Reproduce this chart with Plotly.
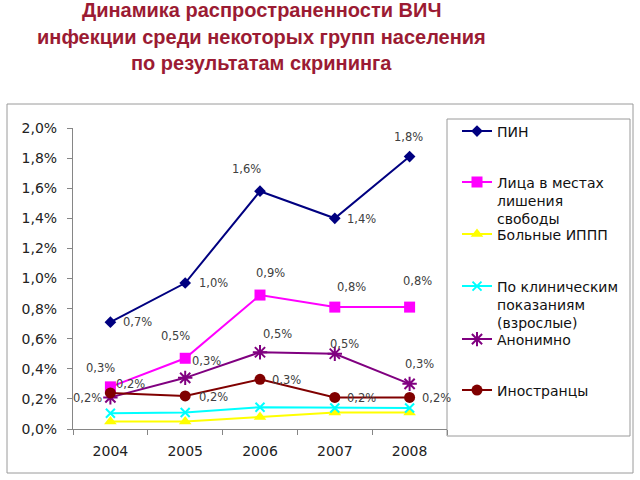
import plotly.graph_objects as go

# ---------------- data ----------------
YEARS = ["2004", "2005", "2006", "2007", "2008"]

PIN = [0.71, 0.97, 1.58, 1.40, 1.81]
PRISON = [0.28, 0.47, 0.89, 0.81, 0.81]
STD = [0.05, 0.05, 0.08, 0.11, 0.11]
CLINICAL = [0.105, 0.11, 0.145, 0.14, 0.14]
ANON = [0.21, 0.34, 0.51, 0.50, 0.30]
FOREIGN = [0.24, 0.22, 0.33, 0.21, 0.21]

SERIES_NAMES = [
    "ПИН",
    "Лица в местах<br>лишения<br>свободы",
    "Больные ИППП",
    "По клиническим<br>показаниям<br>(взрослые)",
    "Анонимно",
    "Иностранцы",
]

Y_TICKS = [0.0, 0.2, 0.4, 0.6, 0.8, 1.0, 1.2, 1.4, 1.6, 1.8, 2.0]
Y_TICK_LABELS = ["0,0%", "0,2%", "0,4%", "0,6%", "0,8%", "1,0%",
                 "1,2%", "1,4%", "1,6%", "1,8%", "2,0%"]

TITLE_LINES = [
    "Динамика распространенности ВИЧ",
    "инфекции среди некоторых групп населения",
    "по результатам скрининга",
]

# ---------------- styles / layout constants ----------------
SERIES_VALUES = [PIN, PRISON, STD, CLINICAL, ANON, FOREIGN]
STYLES = [
    dict(color="#000080", symbol="diamond", size=9),
    dict(color="#FF00FF", symbol="square", size=11),
    dict(color="#FFFF00", symbol="triangle-up", size=11),
    dict(color="#00FFFF", symbol="x-thin-open", size=9),
    dict(color="#800080", symbol="asterisk-open", size=12),
    dict(color="#800000", symbol="circle", size=11),
]
SHOW_LABELS = [True, True, False, False, True, True]
# label centre offsets (px) from the point: (dx right, dy down)
LABEL_OFFSETS = [
    [(27, 0), (28, 0), (-14, -22), (27, 1), (-1, -20)],
    [(-10, -19), (-10, -22), (10, -22), (17, -20), (8, -26)],
    None,
    None,
    [(-23, 1), (21, -17), (17, -18), (10, -10), (10, -20)],
    [(20, -9), (28, 1), (26, 1), (27, 1), (27, 1)],
]
LEGEND_SYMBOL_Y = [131, 182, 234, 286, 339, 390]

W, H = 640, 480
PL, PR, PT, PB = 73, 447, 128, 429  # plot area in px


def px_x(px):
    return (px - PL) / (PR - PL)


def px_y(py):
    return (PB - py) / (PB - PT)


FONT = "DejaVu Sans"

fig = go.Figure()
legend_keys = ["legend"] + [f"legend{i}" for i in range(2, 7)]

for i, (name, vals, st) in enumerate(zip(SERIES_NAMES, SERIES_VALUES, STYLES)):
    fig.add_trace(go.Scatter(
        x=YEARS, y=vals, name=name, mode="lines+markers",
        line=dict(color=st["color"], width=2),
        marker=dict(symbol=st["symbol"], size=st["size"], color=st["color"],
                    line=dict(color=st["color"], width=2 if "open" in st["symbol"] else 0)),
        legend=legend_keys[i],
        hoverinfo="skip",
    ))

annotations = []
for i, vals in enumerate(SERIES_VALUES):
    if not SHOW_LABELS[i]:
        continue
    for j, v in enumerate(vals):
        dx, dy = LABEL_OFFSETS[i][j]
        annotations.append(dict(
            x=j, y=v, xref="x", yref="y",
            text=f"{v:.1f}".replace(".", ",") + "%",
            showarrow=False, xshift=dx, yshift=-dy,
            font=dict(family=FONT, size=11.5, color="#404040"),
        ))

TITLE_CENTERS = [10, 37, 63]
for line, cy in zip(TITLE_LINES, TITLE_CENTERS):
    annotations.append(dict(
        x=px_x(261), y=px_y(cy), xref="paper", yref="paper",
        text=f"<b>{line}</b>", showarrow=False, xanchor="center", yanchor="middle",
        font=dict(family="Liberation Sans, Arial", size=20, color="#9B1B33"),
    ))

shapes = [
    dict(type="rect", xref="paper", yref="paper",
         x0=px_x(7), x1=px_x(633), y0=px_y(473), y1=px_y(104),
         line=dict(color="#9a9a9a", width=1), fillcolor="rgba(0,0,0,0)", layer="below"),
    dict(type="rect", xref="paper", yref="paper",
         x0=px_x(447), x1=px_x(630), y0=px_y(436), y1=px_y(119),
         line=dict(color="#9a9a9a", width=1), fillcolor="rgba(0,0,0,0)", layer="below"),
]

layout_legends = {}
for key, sy in zip(legend_keys, LEGEND_SYMBOL_Y):
    layout_legends[key] = dict(
        x=px_x(457), y=px_y(sy - 15.5), xanchor="left", yanchor="top",
        bgcolor="rgba(0,0,0,0)", borderwidth=0, valign="top",
        font=dict(family=FONT, size=14, color="#111111"),
        itemclick=False, itemdoubleclick=False,
    )

fig.update_layout(
    width=W, height=H,
    margin=dict(l=PL, r=W - PR, t=PT, b=H - PB, pad=0),
    paper_bgcolor="white", plot_bgcolor="white",
    showlegend=True,
    annotations=annotations,
    shapes=shapes,
    xaxis=dict(
        type="category", range=[-0.5, 4.5], showgrid=False, zeroline=False,
        showline=True, linecolor="#868686", linewidth=1,
        ticks="outside", tickson="boundaries", ticklen=5, tickcolor="#868686",
        ticklabelstandoff=9,
        tickfont=dict(family=FONT, size=14, color="#222222"),
    ),
    yaxis=dict(
        range=[0, 2.0], tickvals=Y_TICKS, ticktext=Y_TICK_LABELS,
        showgrid=False, zeroline=False,
        showline=True, linecolor="#868686", linewidth=1,
        ticks="outside", ticklen=5, tickcolor="#868686",
        ticklabelstandoff=7,
        tickfont=dict(family=FONT, size=14, color="#222222"),
    ),
    **layout_legends,
)

fig.write_html("out.html", config={"displayModeBar": False},
               post_script="document.body.style.margin='0';")
